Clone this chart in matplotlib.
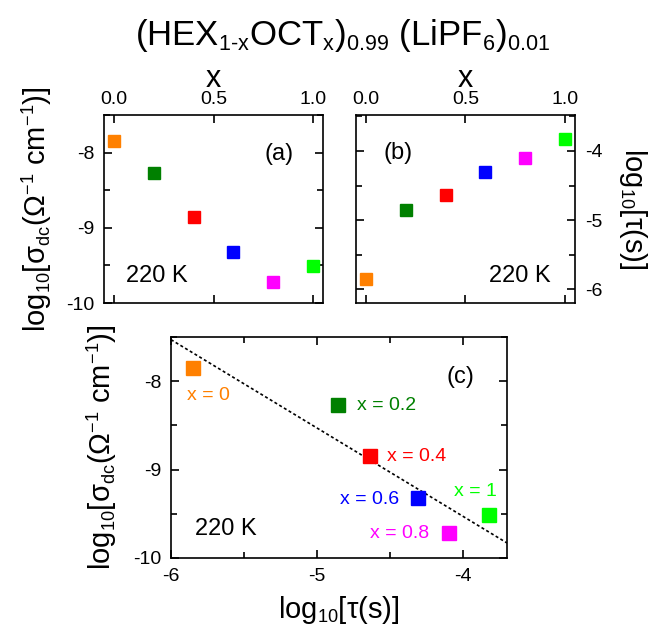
import matplotlib
matplotlib.use("Agg")
import matplotlib.pyplot as plt
from matplotlib.ticker import MultipleLocator
import matplotlib._mathtext as _mt
import numpy as np

plt.rcParams['font.family'] = ['Liberation Sans', 'DejaVu Sans']
plt.rcParams['mathtext.fontset'] = 'custom'
plt.rcParams['mathtext.rm'] = 'Liberation Sans'
plt.rcParams['mathtext.it'] = 'Liberation Sans'
plt.rcParams['mathtext.default'] = 'regular'
plt.rcParams['axes.unicode_minus'] = False
_mt.SHRINK_FACTOR = 0.62

# ---- data ----
x_comp = [0.0, 0.2, 0.4, 0.6, 0.8, 1.0]
log_sigma = [-7.85, -8.27, -8.85, -9.32, -9.72, -9.51]
log_tau = [-5.85, -4.86, -4.64, -4.31, -4.10, -3.82]
colors = ['#FF8000', '#008000', '#FF0000', '#0000FF', '#FF00FF', '#00FF00']
labels_c = ['x = 0', 'x = 0.2', 'x = 0.4', 'x = 0.6', 'x = 0.8', 'x = 1']
fit_slope = -1.0
fit_intercept = -13.53

W, H = 652, 631
fig = plt.figure(figsize=(W / 100, H / 100), dpi=100)


def ax_px(l, t, r, b):
    return fig.add_axes([l / W, 1 - b / H, (r - l) / W, (b - t) / H])


def style(ax):
    for s in ax.spines.values():
        s.set_linewidth(1.2)
    ax.tick_params(which='both', direction='in', width=1.2,
                   labelsize=14, top=True, right=True, pad=7)
    ax.tick_params(which='major', length=6)
    ax.tick_params(which='minor', length=4.5)


ylab_sigma = r'log$_{10}$[$\sigma_{dc}$($\Omega^{-1}$ cm$^{-1}$)]'
ylab_tau = r'log$_{10}$[$\tau$(s)]'

# panel (a)
axa = ax_px(104, 115, 323, 303)
style(axa)
for xi, yi, c in zip(x_comp, log_sigma, colors):
    axa.plot(xi, yi, 's', color=c, ms=8, mec=c)
axa.set_xlim(-0.05, 1.05)
axa.set_ylim(-10, -7.5)
axa.xaxis.set_major_locator(MultipleLocator(0.5))
axa.yaxis.set_major_locator(MultipleLocator(1))
axa.yaxis.set_minor_locator(MultipleLocator(0.5))
axa.tick_params(axis='x', labeltop=True, labelbottom=False, pad=5)
axa.xaxis.set_label_position('top')
axa.set_xlabel('x', fontsize=22, labelpad=3)
axa.set_ylabel(ylab_sigma, fontsize=21, labelpad=9)
axa.text(0.8, 0.79, '(a)', transform=axa.transAxes, fontsize=17, ha='center', va='center')
axa.text(0.1, 0.145, '220 K', transform=axa.transAxes, fontsize=17, ha='left', va='center')

# panel (b)
axb = ax_px(356, 115, 575, 303)
style(axb)
for xi, yi, c in zip(x_comp, log_tau, colors):
    axb.plot(xi, yi, 's', color=c, ms=8, mec=c)
axb.set_xlim(-0.05, 1.05)
axb.set_ylim(-6.2, -3.48)
axb.xaxis.set_major_locator(MultipleLocator(0.5))
axb.yaxis.set_major_locator(MultipleLocator(1))
axb.yaxis.set_minor_locator(MultipleLocator(0.5))
axb.tick_params(labelright=True, labelleft=False)
axb.tick_params(axis='x', labeltop=True, labelbottom=False, pad=5)
axb.xaxis.set_label_position('top')
axb.yaxis.set_label_position('right')
axb.set_xlabel('x', fontsize=22, labelpad=3)
axb.set_ylabel(ylab_tau, fontsize=21, rotation=-90, va='bottom', ha='center')
axb.yaxis.set_label_coords((617 - 356) / 219, 0.5)
axb.text(0.19, 0.8, '(b)', transform=axb.transAxes, fontsize=17, ha='center', va='center')
axb.text(0.75, 0.145, '220 K', transform=axb.transAxes, fontsize=17, ha='center', va='center')

# panel (c)
axc = ax_px(171, 337, 507, 558)
style(axc)
xl = np.array([-6.0, -3.7])
axc.plot(xl, fit_slope * xl + fit_intercept, color='black', lw=1.2, ls=(0, (1.8, 1.5)))
offsets = [(-4.5, -19.5, 'left'), (14, 0, 'left'), (12.5, 0, 'left'),
           (-13.5, -1.2, 'right'), (-14, 0, 'right'), (5.5, 17, 'right')]
for xi, yi, c, lab, (dx, dy, ha) in zip(log_tau, log_sigma, colors, labels_c, offsets):
    axc.plot(xi, yi, 's', color=c, ms=10, mec=c)
    axc.annotate(lab, (xi, yi), xytext=(dx, dy), textcoords='offset points',
                 color=c, fontsize=14, ha=ha, va='center')
axc.set_xlim(-6.0, -3.7)
axc.set_ylim(-10, -7.5)
axc.xaxis.set_major_locator(MultipleLocator(1))
axc.xaxis.set_minor_locator(MultipleLocator(0.5))
axc.yaxis.set_major_locator(MultipleLocator(1))
axc.yaxis.set_minor_locator(MultipleLocator(0.5))
axc.set_xlabel(ylab_tau, fontsize=21, labelpad=7)
axc.set_ylabel(ylab_sigma, fontsize=21, labelpad=10)
axc.text(0.86, 0.82, '(c)', transform=axc.transAxes, fontsize=17, ha='center', va='center')
axc.text(0.07, 0.13, '220 K', transform=axc.transAxes, fontsize=17, ha='left', va='center')

fig.text(342 / W, 1 - 36 / H, '(HEX$_{1\u2010x}$OCT$_x$)$_{0.99}$ (LiPF$_6$)$_{0.01}$',
         fontsize=25, ha='center', va='center')

fig.savefig('out.png', dpi=100)
